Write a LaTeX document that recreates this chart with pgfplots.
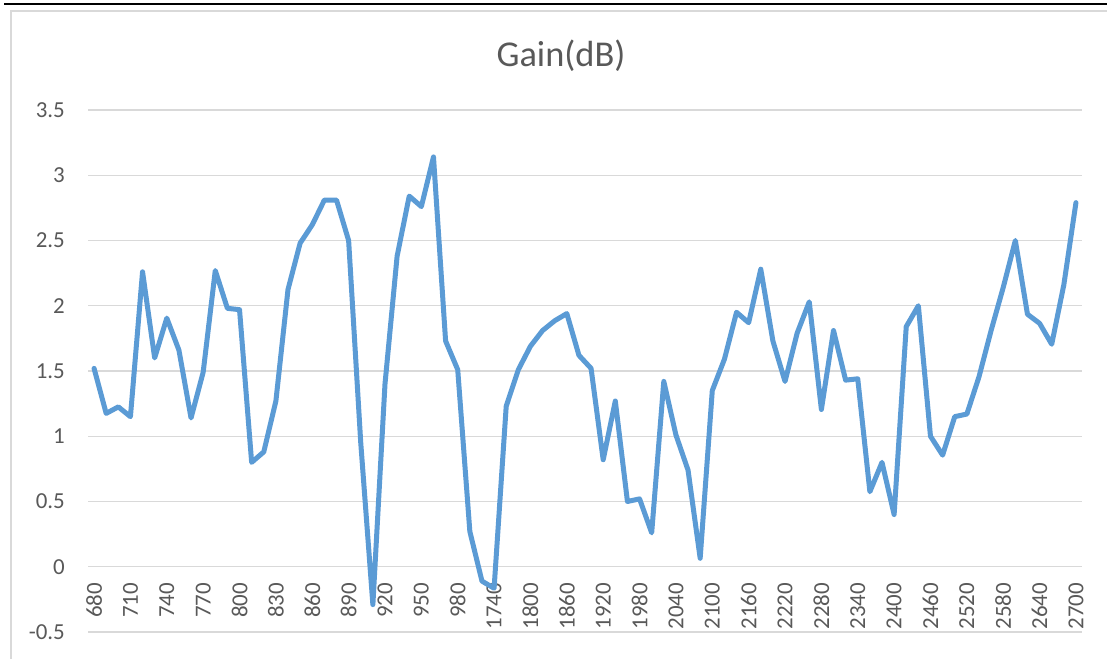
\documentclass[border=0pt]{standalone}
\usepackage{pgfplots}
\pgfplotsset{compat=1.18}
\usepackage{pgfplotstable}
\usepackage{fontspec}
\setmainfont{Carlito}
\definecolor{txt}{HTML}{595959}
\definecolor{gridc}{HTML}{D9D9D9}
\definecolor{linec}{HTML}{5B9BD5}

\pgfplotstableread{
idx freq gain
0 680 1.52
1 690 1.175
2 700 1.225
3 710 1.15
4 720 2.26
5 730 1.60
6 740 1.905
7 750 1.66
8 760 1.14
9 770 1.49
10 780 2.27
11 790 1.98
12 800 1.97
13 810 0.80
14 820 0.88
15 830 1.27
16 840 2.125
17 850 2.48
18 860 2.62
19 870 2.81
20 880 2.81
21 890 2.50
22 900 0.95
23 910 -0.29
24 920 1.40
25 930 2.38
26 940 2.84
27 950 2.76
28 960 3.14
29 970 1.73
30 980 1.51
31 990 0.27
32 1000 -0.11
33 1740 -0.165
34 1760 1.23
35 1780 1.51
36 1800 1.69
37 1820 1.81
38 1840 1.885
39 1860 1.94
40 1880 1.62
41 1900 1.52
42 1920 0.82
43 1940 1.27
44 1960 0.50
45 1980 0.52
46 2000 0.26
47 2020 1.42
48 2040 1.01
49 2060 0.74
50 2080 0.065
51 2100 1.35
52 2120 1.59
53 2140 1.95
54 2160 1.87
55 2180 2.28
56 2200 1.73
57 2220 1.42
58 2240 1.79
59 2260 2.03
60 2280 1.205
61 2300 1.81
62 2320 1.43
63 2340 1.44
64 2360 0.575
65 2380 0.80
66 2400 0.40
67 2420 1.84
68 2440 2.00
69 2460 1.00
70 2480 0.855
71 2500 1.15
72 2520 1.17
73 2540 1.455
74 2560 1.81
75 2580 2.14
76 2600 2.50
77 2620 1.935
78 2640 1.865
79 2660 1.705
80 2680 2.16
81 2700 2.79
}\gaindata

\begin{document}
\begin{tikzpicture}[x=1bp,y=1bp]
\path[use as bounding box] (0,0) rectangle (1107,659);
\fill[white] (0,0) rectangle (1107,659);
\draw[black, line width=2.5bp] (4,655.2) -- (1107,655.2);
\draw[gridc, line width=1.6bp] (11,0) -- (11,648) -- (1107,648);
\node[txt, font=\fontsize{36.5}{40}\selectfont, anchor=base, inner sep=0pt] at (561,592.5) {Gain(dB)};
\begin{axis}[
  at={(88bp,27bp)}, anchor=south west,
  scale only axis, width=994bp, height=522bp,
  xmin=-0.5, xmax=81.5, ymin=-0.5, ymax=3.5,
  axis x line*=middle, axis y line*=left,
  axis line style={draw=none},
  major tick length=0pt,
  ymajorgrids, major grid style={gridc, line width=1.3bp},
  xtick={0,3,...,81},
  xticklabels={680,710,740,770,800,830,860,890,920,950,980,1740,1800,1860,1920,1980,2040,2100,2160,2220,2280,2340,2400,2460,2520,2580,2640,2700},
  ytick={-0.5,0,0.5,1,1.5,2,2.5,3,3.5},
  yticklabels={-0.5,0,0.5,1,1.5,2,2.5,3,3.5},
  tick label style={txt, font=\fontsize{23}{24}\selectfont, inner sep=0pt},
  xticklabel style={yshift=-16bp, rotate=90, anchor=east},
  yticklabel style={anchor=east, xshift=-23bp},
  clip=false,
]
\addplot[linec, line width=5bp, line join=round, line cap=round] table[x=idx, y=gain] {\gaindata};
\end{axis}
\end{tikzpicture}
\end{document}
